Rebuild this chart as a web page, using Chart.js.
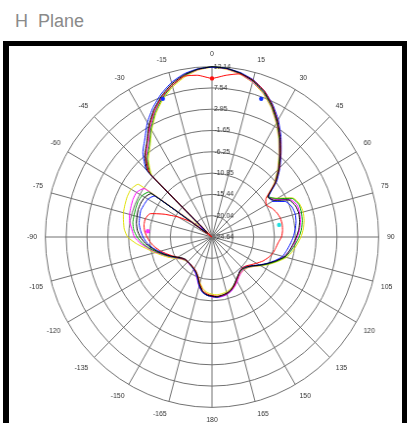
<!DOCTYPE html>
<html>
<head>
<meta charset="utf-8">
<script src="https://cdn.jsdelivr.net/npm/chart.js@4.4.1/dist/chart.umd.min.js"></script>
<style>
  html, body { margin: 0; padding: 0; background: #fff; }
  body { width: 407px; height: 423px; position: relative; overflow: hidden; font-family: "Liberation Sans", Arial, sans-serif; }
  #title { position: absolute; left: 15px; top: 12px; font-size: 18px; line-height: 18px; color: #8a8a8a; white-space: pre; }
  #frame { position: absolute; left: 3px; top: 41px; width: 393px; height: 400px; border: 5px solid #000; border-left-width: 6px; border-bottom: none; }
  #wrap { position: absolute; left: 22px; top: 47px; width: 378px; height: 380px; transform: scaleX(0.978); transform-origin: 189px 190px; }
</style>
</head>
<body>
<div id="title">H  Plane</div>
<div id="frame"></div>
<div id="wrap"><canvas id="c" width="378" height="380"></canvas></div>
<script>
// Azimuth of each sample, degrees (0 = boresight, clockwise positive)
const angles = [0,5,10,15,20,25,30,35,40,45,50,55,60,65,70,75,80,85,90,95,100,105,110,115,120,125,130,135,140,145,150,155,160,165,170,175,180,
  -175,-170,-165,-160,-155,-150,-145,-140,-135,-130,-125,-120,-115,-110,-105,-100,-95,-90,-85,-80,-75,-70,-65,-60,-55,-50,-45,-40,-35,-30,-25,-20,-15,-10,-5];

// Ring levels (dB) and their printed labels
const ringValues = [-24.64, -20.04, -15.44, -10.85, -6.25, -1.65, 2.95, 7.54, 12.14];
const ringLabels = ['-24.64', '-20.04', '-15.44', '-10.85', '-6.25', '-1.65', '2.95', '7.54', '12.14'];

// Gain (dB) per azimuth, one trace per measurement
const gainBlack = [12.1,11.9,11.3,10.3,8.8,6.7,4.2,1.5,-1.2,-3.7,-6.3,-9.6,-8.8,-5.8,-5.0,-4.8,-5.0,-5.4,-6.0,-6.7,-7.3,-8.1,-9.6,-11.1,-12.5,-13.8,-14.6,-15.0,-15.0,-14.6,-14.0,-13.2,-12.5,-12.1,-11.9,-11.7,-11.9,
  -12.1,-12.7,-14.0,-15.5,-16.3,-16.7,-16.9,-17.1,-17.1,-17.1,-16.7,-15.9,-14.8,-13.6,-12.3,-11.1,-9.8,-8.8,-8.1,-7.7,-7.5,-7.3,-7.3,-7.5,-8.3,-23.4,-4.6,-1.6,0.4,3.2,5.7,7.8,9.6,10.9,11.7];
const gainBlue = [12.0,11.9,11.4,10.5,9.0,7.0,4.6,1.9,-0.9,-3.4,-6.0,-9.4,-9.2,-6.6,-5.8,-5.6,-5.8,-6.2,-6.7,-7.3,-7.9,-8.5,-9.8,-11.2,-12.6,-13.9,-14.8,-15.2,-15.1,-14.5,-13.8,-13.0,-12.3,-11.9,-11.7,-11.6,-11.8,
  -12.0,-12.5,-13.7,-15.2,-16.1,-16.6,-16.9,-17.0,-17.1,-17.0,-16.6,-15.8,-14.8,-13.8,-12.6,-11.3,-10.2,-9.4,-8.8,-8.3,-8.1,-7.9,-8.1,-8.3,-9.2,-22.8,-4.2,-0.9,1.2,3.9,6.2,8.2,9.9,11.1,11.8];
const gainRed = [9.6,10.4,11.1,10.4,9.0,6.8,4.3,1.6,-1.1,-3.6,-6.4,-10.1,-10.8,-10.0,-9.4,-9.0,-8.9,-9.0,-9.3,-10.0,-10.4,-10.8,-11.5,-12.3,-13.3,-14.2,-14.9,-15.2,-15.0,-14.5,-13.8,-13.0,-12.4,-12.0,-11.8,-11.8,-12.0,
  -12.3,-12.9,-14.2,-15.6,-16.4,-16.8,-17.0,-17.1,-17.1,-17.0,-16.6,-15.9,-15.0,-14.0,-12.9,-11.9,-11.0,-10.3,-9.7,-9.4,-9.4,-10.0,-13.0,-16.0,-19.0,-24.6,-5.2,-1.8,0.3,3.0,5.5,7.6,9.3,10.6,10.4];
const gainGreen = [12.1,11.9,11.2,10.2,8.6,6.5,4.0,1.3,-1.4,-3.9,-6.5,-9.4,-8.1,-5.0,-4.2,-4.2,-4.4,-4.8,-5.4,-6.2,-7.0,-7.9,-9.4,-10.9,-12.4,-13.7,-14.5,-14.9,-14.9,-14.5,-13.9,-13.1,-12.4,-12.0,-11.8,-11.6,-11.8,
  -12.0,-12.6,-13.8,-15.3,-16.2,-16.6,-16.8,-17.0,-17.0,-16.9,-16.5,-15.7,-14.6,-13.4,-12.1,-10.6,-9.2,-8.1,-7.3,-6.9,-6.8,-6.7,-6.6,-6.8,-7.7,-23.0,-5.5,-2.4,-0.5,2.3,5.0,7.3,9.2,10.7,11.7];
const gainMagenta = [12.1,11.8,11.1,10.0,8.5,6.4,3.9,1.2,-1.5,-4.0,-6.6,-9.5,-8.4,-5.5,-4.6,-4.6,-4.8,-5.2,-5.8,-6.5,-7.3,-8.1,-9.6,-11.0,-12.4,-13.6,-14.4,-14.7,-14.6,-14.2,-13.5,-12.8,-12.2,-11.8,-11.6,-11.5,-11.7,
  -12.0,-12.5,-13.6,-15.0,-16.0,-16.5,-16.8,-16.9,-17.0,-16.9,-16.4,-15.6,-14.5,-13.3,-11.9,-10.4,-8.8,-7.5,-6.9,-6.2,-5.8,-5.6,-5.4,-5.4,-6.4,-22.0,-5.2,-2.2,-0.2,2.6,5.2,7.4,9.2,10.7,11.6];
const gainYellow = [12.0,11.7,11.0,9.9,8.3,6.2,3.7,1.0,-1.7,-4.2,-6.8,-9.7,-7.9,-4.8,-4.0,-3.8,-4.0,-4.4,-5.0,-5.8,-6.6,-7.6,-9.2,-10.7,-12.2,-13.5,-14.3,-14.6,-14.6,-14.3,-13.8,-13.2,-12.7,-12.4,-12.2,-12.1,-12.3,
  -12.6,-13.3,-14.4,-15.6,-16.3,-16.7,-16.9,-17.0,-17.0,-16.8,-16.3,-15.4,-14.2,-13.0,-11.6,-10.0,-7.9,-6.0,-5.2,-4.8,-4.4,-4.2,-4.0,-4.0,-4.8,-21.0,-5.9,-2.8,-0.8,2.0,4.7,7.0,8.9,10.4,11.5];

// Marked readings (azimuth, dB)
const markBlueAngles = [-20, 20];
const markBlueDb = [7.1, 7.1];
const markRedAngles = [0];
const markRedDb = [9.6];
const markMagentaAngles = [-85];
const markMagentaDb = [-10.4];
const markCyanAngles = [80];
const markCyanDb = [-9.6];

function marks(list, vals) {
  return angles.map(a => {
    const k = list.indexOf(a);
    return k >= 0 ? vals[k] : null;
  });
}

function trace(data, color) {
  return { data, borderColor: color, borderWidth: 1, fill: false, pointRadius: 0, tension: 0.15 };
}
function markSet(data, color) {
  return { data, showLine: false, pointRadius: 2.2, pointBorderWidth: 0, pointBackgroundColor: color, borderColor: color };
}

new Chart(document.getElementById('c'), {
  type: 'radar',
  data: {
    labels: angles.map(String),
    datasets: [
      markSet(marks(markBlueAngles, markBlueDb), '#1030ff'),
      markSet(marks(markRedAngles, markRedDb), '#ff1010'),
      markSet(marks(markMagentaAngles, markMagentaDb), '#ff30ff'),
      markSet(marks(markCyanAngles, markCyanDb), '#20e0e0'),
      trace(gainBlack, '#000000'),
      trace(gainRed, '#ff0000'),
      trace(gainBlue, '#0010ff'),
      trace(gainGreen, '#00a000'),
      trace(gainMagenta, '#ff00ff'),
      trace(gainYellow, '#e0e000')
    ]
  },
  options: {
    responsive: false,
    devicePixelRatio: 1,
    animation: false,
    plugins: { legend: { display: false }, tooltip: { enabled: false } },
    scales: {
      r: {
        min: ringValues[0],
        max: ringValues[ringValues.length - 1],
        startAngle: 0,
        afterBuildTicks: s => { s.ticks = ringValues.map(v => ({ value: v })); },
        ticks: {
          // centred text, so a run of leading spaces about as wide as the value
          // puts each printed level just right of the 0° spoke
          callback: (v, i) => '\u2002'.repeat(ringLabels[i].length + 1) + ringLabels[i],
          font: { family: 'Liberation Sans', size: 7 },
          color: '#333',
          showLabelBackdrop: false
        },
        grid: { circular: true, color: '#707070', lineWidth: 1 },
        angleLines: { color: ctx => ctx.index % 3 === 0 ? '#707070' : 'rgba(0,0,0,0)', lineWidth: 1 },
        pointLabels: {
          callback: (lab, i) => i % 3 === 0 ? lab : '',
          font: { family: 'Liberation Sans', size: 7 },
          color: '#333',
          padding: 3
        }
      }
    }
  }
});
</script>
</body>
</html>
